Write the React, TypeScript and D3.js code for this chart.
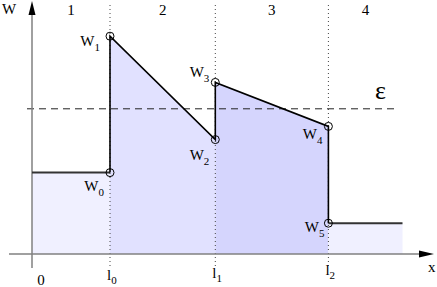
import React from "react";
import * as d3 from "d3";

// breakpoints along x (arbitrary units)
const breakNames = ["0", "l0", "l1", "l2"];
const breakX = [0, 20, 47, 76];
const endX = 95;
// W values (arbitrary units)
const wNames = ["W0", "W1", "W2", "W3", "W4", "W5"];
const wValues = [3.7, 9.9, 5.2, 7.8, 5.8, 1.4];
const epsilon = 6.6;
const regionLabels = ["1", "2", "3", "4"];
const regionFills = ["#f0f0ff", "#e1e1ff", "#d5d5fd", "#f0f0ff"];

const W = 437;
const H = 287;

export default function App() {
  const x = d3.scaleLinear().domain([0, 100]).range([32, 422]);
  const y = d3.scaleLinear().domain([0, 10]).range([254, 34]);
  const [, l0, l1, l2] = breakX;
  const [w0, w1, w2, w3, w4, w5] = wValues;

  const area = d3
    .area<[number, number]>()
    .x((d) => x(d[0]))
    .y0(y(0))
    .y1((d) => y(d[1]));

  const regions: [number, number][][] = [
    [[0, w0], [l0, w0]],
    [[l0, w1], [l1, w2]],
    [[l1, w3], [l2, w4]],
    [[l2, w5], [endX, w5]],
  ];

  const line = d3
    .line<[number, number]>()
    .x((d) => x(d[0]))
    .y((d) => y(d[1]));
  const mainPts: [number, number][] = [
    [l0, w0], [l0, w1], [l1, w2], [l1, w3], [l2, w4], [l2, w5],
  ];
  const circlePts: [number, number][] = [
    [l0, w0], [l0, w1], [l1, w2], [l1, w3], [l2, w4], [l2, w5],
  ];
  // label offsets (dx from point, dy baseline from point) – layout only
  const labelOff: [number, number][] = [
    [-6, 18], [-10, 10], [-6, 20], [-6, -5], [-6, 13], [-4, 9],
  ];

  const regionMids = [
    (0 + l0) / 2, (l0 + l1) / 2, (l1 + l2) / 2, (l2 + endX) / 2,
  ];
  const tickBase = [285, 280, 278, 275];
  const font = "'Liberation Serif', 'Times New Roman', serif";

  const sub = (name: string, dy = 5) => {
    const main = name.slice(0, 1);
    const s = name.slice(1);
    return (
      <>
        {main}
        {s && (
          <tspan fontSize={11} dy={dy}>
            {s}
          </tspan>
        )}
      </>
    );
  };

  return (
    <svg
      width={W}
      height={H}
      style={{ position: "absolute", left: 0, top: 0, background: "#fff" }}
      fontFamily={font}
    >
      {regions.map((r, i) => (
        <path key={i} d={area(r) || ""} fill={regionFills[i]} />
      ))}
      {/* dotted verticals */}
      {breakX.slice(1).map((b, i) => (
        <line
          key={i}
          x1={x(b)}
          x2={x(b)}
          y1={5}
          y2={268}
          stroke="#444"
          strokeWidth={1}
          strokeDasharray="1,3"
        />
      ))}
      {/* epsilon dashed line */}
      <line
        x1={27}
        x2={397}
        y1={y(epsilon)}
        y2={y(epsilon)}
        stroke="#222"
        strokeWidth={1}
        strokeDasharray="7,5"
      />
      {/* axes */}
      <line x1={32} x2={32} y1={268} y2={14} stroke="#808080" strokeWidth={1.5} />
      <path d="M32,1 L28.5,15 L35.5,15 Z" fill="#000" />
      <line x1={9} x2={420} y1={254} y2={254} stroke="#808080" strokeWidth={1.5} />
      <path d="M434,254 L419,250.5 L419,257.5 Z" fill="#000" />
      {/* step lines */}
      <path d={line([[0, w0], [l0, w0]]) || ""} stroke="#333" strokeWidth={2} fill="none" />
      <path d={line([[l2, w5], [endX, w5]]) || ""} stroke="#333" strokeWidth={2} fill="none" />
      <path d={line(mainPts) || ""} stroke="#000" strokeWidth={1.6} fill="none" />
      {circlePts.map((p, i) => (
        <circle key={i} cx={x(p[0])} cy={y(p[1])} r={4} fill="none" stroke="#000" strokeWidth={1} />
      ))}
      {circlePts.map((p, i) => (
        <text
          key={i}
          x={x(p[0]) + labelOff[i][0]}
          y={y(p[1]) + labelOff[i][1]}
          textAnchor="end"
          fontSize={15}
        >
          {sub(wNames[i])}
        </text>
      ))}
      {regionLabels.map((t, i) => (
        <text key={i} x={x(regionMids[i])} y={15} textAnchor="middle" fontSize={15}>
          {t}
        </text>
      ))}
      {breakNames.map((t, i) => (
        <text
          key={i}
          x={i === 0 ? 41 : x(breakX[i]) - 3}
          y={tickBase[i]}
          textAnchor={i === 0 ? "middle" : "start"}
          fontSize={15}
        >
          {sub(t, 4)}
        </text>
      ))}
      <text x={2} y={14} fontSize={15}>W</text>
      <text x={428} y={272} fontSize={15}>x</text>
      <text x={375} y={99} fontSize={26}>ε</text>
    </svg>
  );
}
